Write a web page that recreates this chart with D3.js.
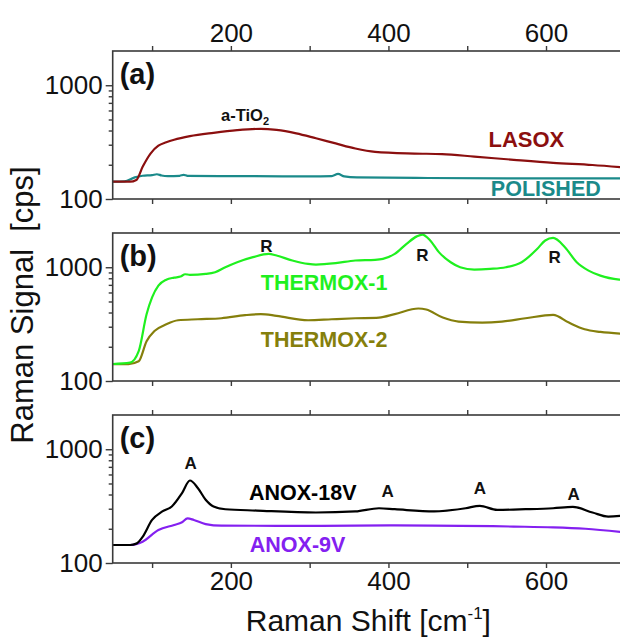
<!DOCTYPE html>
<html><head><meta charset="utf-8">
<script src="https://cdn.jsdelivr.net/npm/d3@7/dist/d3.min.js"></script>
<style>
body{margin:0;background:#fff;}
svg text{font-family:"Liberation Sans",Arial,Helvetica,sans-serif;}
</style></head>
<body><svg id="c" width="620" height="638"></svg>
<script>
// ---------- data ----------
const lasoxShift  = [50,72,80,88,98,108,118,128,148,178,208,238,258,283,308,333,358,383,433,468,509,559,609,659,700];
const lasoxSignal = [142,142,147,192,251,294,315,332,357,382,403,414,405,378,342,308,278,260,251,248,236,221,208,199,189];

const polishedShift  = [50,65,78,88,100,106,112,120,135,140,145,200,300,328,336,344,360,450,550,700];
const polishedSignal = [142,143,155,160,162,165,161,159,160,163,160,159,158,159,166,158,155,153,152,152];

const thermox1Shift  = [50,72,83,93,100,108,118,128,136,142,148,168,180,193,208,228,248,258,278,298,308,333,358,383,393,408,423,436,443,453,464,479,491,509,529,549,569,589,599,609,624,639,654,669,693,700];
const thermox1Signal = [141,145,183,386,543,689,778,810,828,868,858,873,903,1000,1107,1226,1312,1268,1146,1070,1056,1085,1146,1161,1185,1312,1608,1868,1933,1720,1358,1107,1000,954,967,1000,1107,1452,1720,1810,1502,1107,934,844,778,770];

const thermox2Shift  = [50,70,83,93,103,118,133,158,188,218,238,258,298,328,358,388,408,438,448,469,489,519,544,574,609,629,649,669,700];
const thermox2Signal = [141,141,149,224,275,315,342,349,356,379,387,374,342,349,356,361,387,434,425,361,333,326,333,356,381,326,285,270,260];

const anox18Shift  = [50,72,80,88,100,113,125,138,148,158,168,178,193,233,308,358,388,408,458,498,516,538,574,609,634,659,679,700];
const anox18Signal = [144,144,148,170,239,284,314,412,531,457,360,314,297,289,278,284,303,297,284,303,318,293,297,303,311,278,256,262];

const anox9Shift  = [50,72,88,108,128,138,145,153,168,188,308,408,559,609,650,700];
const anox9Signal = [144,144,154,195,216,228,247,239,220,213,212,214,209,206,200,186];

const xTickValues  = [100,200,300,400,500,600,700];
const xTickLabels  = [200,400,600];
const yMajorTicks  = [100,1000];
const yMinorTicks  = [200,300,400,500,600,700,800,900];
const panelLetters = ["(a)","(b)","(c)"];

// annotation texts
const annoText = ["a-TiO","LASOX","POLISHED","THERMOX-1","THERMOX-2","R","R","R","ANOX-18V","ANOX-9V","A","A","A","A"];

// ---------- layout ----------
const svg = d3.select("#c");
const left = 112.7, right = 624.8;
const panelTops = [51, 233, 415];
const panelH = 148;
const frameColor = "#3a3a3a";

const x = d3.scaleLinear().domain([50,700]).range([left,right]);
const yScales = panelTops.map(t => d3.scaleLog().domain([100,2000]).range([t+panelH, t]));

const series = [
  {panel:0, xs:polishedShift, ys:polishedSignal, color:"#1b8a8a"},
  {panel:0, xs:lasoxShift,    ys:lasoxSignal,    color:"#8b0f0f"},
  {panel:1, xs:thermox2Shift, ys:thermox2Signal, color:"#857f0c"},
  {panel:1, xs:thermox1Shift, ys:thermox1Signal, color:"#1ff01f"},
  {panel:2, xs:anox9Shift,    ys:anox9Signal,    color:"#8420f0"},
  {panel:2, xs:anox18Shift,   ys:anox18Signal,   color:"#000000"}
];

panelTops.forEach((top,i) => {
  const y = yScales[i];
  const g = svg.append("g");
  const cid = "clip"+i;
  svg.append("clipPath").attr("id",cid).append("rect")
     .attr("x",left).attr("y",top).attr("width",right-left).attr("height",panelH);

  series.filter(s=>s.panel===i).forEach(s=>{
    const pts = s.xs.map((v,k)=>[v,s.ys[k]]);
    g.append("path").datum(pts)
      .attr("clip-path","url(#"+cid+")")
      .attr("fill","none").attr("stroke",s.color).attr("stroke-width",2.2)
      .attr("stroke-linejoin","round")
      .attr("d", d3.line().x(d=>x(d[0])).y(d=>y(d[1])).curve(d3.curveMonotoneX));
  });

  g.append("rect").attr("x",left).attr("y",top).attr("width",right-left).attr("height",panelH)
    .attr("fill","none").attr("stroke",frameColor).attr("stroke-width",1.6);

  const bAxis = d3.axisBottom(x).tickValues(xTickValues).tickSizeInner(5).tickSizeOuter(0)
     .tickPadding(4)
     .tickFormat(d => (i===2 && xTickLabels.includes(d)) ? d : "");
  const bg = g.append("g").attr("transform",`translate(0,${top+panelH})`).call(bAxis);
  const tAxis = d3.axisTop(x).tickValues(xTickValues).tickSizeInner(5).tickSizeOuter(0)
     .tickPadding(4)
     .tickFormat(d => (i===0 && xTickLabels.includes(d)) ? d : "");
  const tg = g.append("g").attr("transform",`translate(0,${top})`).call(tAxis);
  const yAxis = d3.axisLeft(y).tickValues(yMajorTicks).tickSizeInner(7).tickSizeOuter(0)
     .tickPadding(3).tickFormat(d3.format("d"));
  const yg = g.append("g").attr("transform",`translate(${left},0)`).call(yAxis);
  const yAxisMinor = d3.axisLeft(y).tickValues(yMinorTicks).tickSizeInner(4).tickSizeOuter(0).tickFormat("");
  const ymg = g.append("g").attr("transform",`translate(${left},0)`).call(yAxisMinor);

  [bg,tg,yg,ymg].forEach(a=>{
    a.select(".domain").remove();
    a.selectAll(".tick line").attr("stroke",frameColor).attr("stroke-width",1.4);
    a.selectAll(".tick text").attr("fill","#111").style("font-size","26px")
      .style("font-family","'Liberation Sans',Arial,sans-serif");
  });

  g.append("text").attr("x",left+7).attr("y",top+33)
    .style("font-size","29px").style("font-weight","bold").attr("fill","#111")
    .text(panelLetters[i]);
});

// ---------- annotations ----------
const ya = yScales[0], yb = yScales[1], yc = yScales[2];
function label(px,py,txt,color,size,anchor){
  return svg.append("text").attr("x",px).attr("y",py).attr("fill",color)
    .style("font-size",size+"px").style("font-weight","bold")
    .attr("text-anchor",anchor||"start").text(txt);
}
const ti = label(x(218), ya(485), annoText[0], "#111", 16.5, "middle");
ti.append("tspan").attr("dy",4).style("font-size","11px").text("2");
label(x(527), ya(288), annoText[1], "#8b0f0f", 22);
label(x(530), ya(106), annoText[2], "#1b8a8a", 21.5);
label(x(238), yb(632), annoText[3], "#1ff01f", 21.5);
label(x(238), yb(199), annoText[4], "#857f0c", 21.5);
label(x(245), yb(1350), annoText[5], "#111", 17, "middle");
label(x(443), yb(1140), annoText[6], "#111", 17, "middle");
label(x(611), yb(1080), annoText[7], "#111", 17, "middle");
label(x(223), yc(358), annoText[8], "#000", 21.5);
label(x(224), yc(125), annoText[9], "#8420f0", 21.5);
label(x(149), yc(670), annoText[10], "#111", 17, "middle");
label(x(399), yc(377), annoText[11], "#111", 17, "middle");
label(x(516), yc(404), annoText[12], "#111", 17, "middle");
label(x(635), yc(358), annoText[13], "#111", 17, "middle");

// ---------- axis titles ----------
const xt = svg.append("text").attr("x",(left+620)/2+2).attr("y",631).attr("text-anchor","middle")
  .attr("fill","#111").style("font-size","30px").text("Raman Shift [cm");
xt.append("tspan").attr("dy",-12).style("font-size","17px").text("-1");
xt.append("tspan").attr("dy",12).text("]");

svg.append("text").attr("transform","translate(33,305) rotate(-90)").attr("text-anchor","middle")
  .attr("fill","#111").style("font-size","31px").attr("xml:space","preserve")
  .style("white-space","pre").text("Raman Signal  [cps]");
</script></body></html>
